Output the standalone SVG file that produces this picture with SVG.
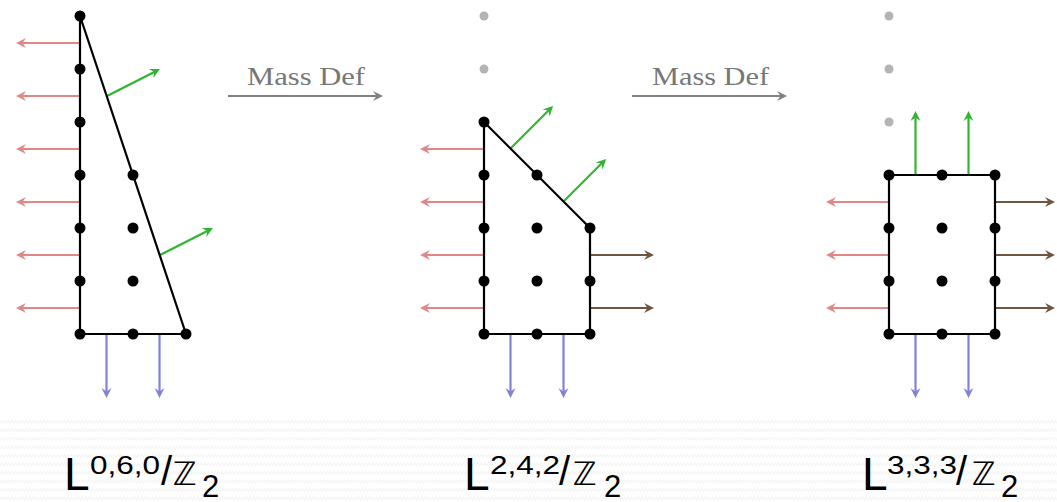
<svg xmlns="http://www.w3.org/2000/svg" width="1057" height="502" viewBox="0 0 1057 502">
<defs>
<style>
.edge{fill:none;stroke:#000;stroke-width:2.2;stroke-linejoin:round}
.dot{fill:#000}
.gdot{fill:#b4b4b4}
.red{stroke:#e08888;stroke-width:2.2;fill:none;marker-end:url(#mr)}
.grn{stroke:#2fb52f;stroke-width:2.2;fill:none;marker-end:url(#mg)}
.blu{stroke:#8282d6;stroke-width:2.2;fill:none;marker-end:url(#mb)}
.brn{stroke:#6e5642;stroke-width:2.2;fill:none;marker-end:url(#mn)}
.mass{stroke:#808080;stroke-width:2.2;fill:none;marker-end:url(#mm)}
.mtxt{font-family:"Liberation Serif","DejaVu Serif",serif;font-size:26px;fill:#777}
.L{font-family:"Liberation Sans",Arial,sans-serif;font-size:46px;fill:#000}
.sup{font-family:"Liberation Sans",Arial,sans-serif;font-size:26px;fill:#000}
.sl{font-family:"Liberation Sans",Arial,sans-serif;font-size:40px;fill:#000}
.zz{font-family:"DejaVu Sans",sans-serif;font-size:32px;fill:#000}
.sub{font-family:"Liberation Sans",Arial,sans-serif;font-size:31px;fill:#000}
</style>
<marker id="mr" viewBox="-8 -6 12 12" markerWidth="12" markerHeight="12" refX="0" refY="0" orient="auto" markerUnits="userSpaceOnUse"><path d="M3,0 L-7,-5 L-3.5,0 L-7,5 Z" fill="#e08888"/></marker>
<marker id="mg" viewBox="-8 -6 12 12" markerWidth="12" markerHeight="12" refX="0" refY="0" orient="auto" markerUnits="userSpaceOnUse"><path d="M3,0 L-7,-5 L-3.5,0 L-7,5 Z" fill="#2fb52f"/></marker>
<marker id="mb" viewBox="-8 -6 12 12" markerWidth="12" markerHeight="12" refX="0" refY="0" orient="auto" markerUnits="userSpaceOnUse"><path d="M3,0 L-7,-5 L-3.5,0 L-7,5 Z" fill="#8282d6"/></marker>
<marker id="mn" viewBox="-8 -6 12 12" markerWidth="12" markerHeight="12" refX="0" refY="0" orient="auto" markerUnits="userSpaceOnUse"><path d="M3,0 L-7,-5 L-3.5,0 L-7,5 Z" fill="#6e5642"/></marker>
<marker id="mm" viewBox="-8 -6 12 12" markerWidth="12" markerHeight="12" refX="0" refY="0" orient="auto" markerUnits="userSpaceOnUse"><path d="M3,0 L-7,-5 L-3.5,0 L-7,5 Z" fill="#808080"/></marker>
<pattern id="zig" x="0" y="418" width="7" height="8.5" patternUnits="userSpaceOnUse"><polyline points="0,5.5 1.75,2.5 3.5,5.5 5.25,2.5 7,5.5" fill="none" stroke="#f3f3f3" stroke-width="1"/></pattern>
</defs>
<rect x="0" y="0" width="1057" height="502" fill="#fff"/>
<rect x="0" y="418" width="1057" height="84" fill="url(#zig)"/>

<g id="diagram-L060">
<line class="red" x1="79" y1="43" x2="19" y2="43"/>
<line class="red" x1="79" y1="96" x2="19" y2="96"/>
<line class="red" x1="79" y1="149" x2="19" y2="149"/>
<line class="red" x1="79" y1="202" x2="19" y2="202"/>
<line class="red" x1="79" y1="255" x2="19" y2="255"/>
<line class="red" x1="79" y1="308" x2="19" y2="308"/>
<line class="grn" x1="107" y1="96" x2="157.3" y2="70.4"/>
<line class="grn" x1="160" y1="255" x2="210.3" y2="229.4"/>
<line class="blu" x1="106.5" y1="335" x2="106.5" y2="395"/>
<line class="blu" x1="159.5" y1="335" x2="159.5" y2="395"/>
<polygon class="edge" points="80,16 80,334 186,334"/>
<g class="dot">
<circle cx="80" cy="16" r="5.5"/><circle cx="80" cy="69" r="5.5"/><circle cx="80" cy="122" r="5.5"/><circle cx="80" cy="175" r="5.5"/><circle cx="80" cy="228" r="5.5"/><circle cx="80" cy="281" r="5.5"/><circle cx="80" cy="334" r="5.5"/>
<circle cx="133" cy="175" r="5.5"/><circle cx="133" cy="228" r="5.5"/><circle cx="133" cy="281" r="5.5"/><circle cx="133" cy="334" r="5.5"/>
<circle cx="186" cy="334" r="5.5"/>
</g>
</g>

<g id="diagram-L242">
<g class="gdot"><circle cx="484" cy="16" r="4.5"/><circle cx="484" cy="69" r="4.5"/></g>
<line class="red" x1="483" y1="149" x2="423" y2="149"/>
<line class="red" x1="483" y1="202" x2="423" y2="202"/>
<line class="red" x1="483" y1="255" x2="423" y2="255"/>
<line class="red" x1="483" y1="308" x2="423" y2="308"/>
<line class="grn" x1="510.5" y1="148.5" x2="551" y2="108"/>
<line class="grn" x1="563.5" y1="201.5" x2="604" y2="161"/>
<line class="brn" x1="591" y1="255" x2="651" y2="255"/>
<line class="brn" x1="591" y1="308" x2="651" y2="308"/>
<line class="blu" x1="510.5" y1="335" x2="510.5" y2="395"/>
<line class="blu" x1="563.5" y1="335" x2="563.5" y2="395"/>
<polygon class="edge" points="484,122 484,334 590,334 590,228"/>
<g class="dot">
<circle cx="484" cy="122" r="5.5"/><circle cx="484" cy="175" r="5.5"/><circle cx="484" cy="228" r="5.5"/><circle cx="484" cy="281" r="5.5"/><circle cx="484" cy="334" r="5.5"/>
<circle cx="537" cy="175" r="5.5"/><circle cx="537" cy="228" r="5.5"/><circle cx="537" cy="281" r="5.5"/><circle cx="537" cy="334" r="5.5"/>
<circle cx="590" cy="228" r="5.5"/><circle cx="590" cy="281" r="5.5"/><circle cx="590" cy="334" r="5.5"/>
</g>
</g>

<g id="diagram-L333">
<g class="gdot"><circle cx="889" cy="16" r="4.5"/><circle cx="889" cy="69" r="4.5"/><circle cx="889" cy="122" r="4.5"/></g>
<line class="grn" x1="915.5" y1="174" x2="915.5" y2="114"/>
<line class="grn" x1="968.5" y1="174" x2="968.5" y2="114"/>
<line class="red" x1="888" y1="202" x2="829" y2="202"/>
<line class="red" x1="888" y1="255" x2="829" y2="255"/>
<line class="red" x1="888" y1="308" x2="829" y2="308"/>
<line class="brn" x1="996" y1="202" x2="1052" y2="202"/>
<line class="brn" x1="996" y1="255" x2="1052" y2="255"/>
<line class="brn" x1="996" y1="308" x2="1052" y2="308"/>
<line class="blu" x1="915.5" y1="335" x2="915.5" y2="395"/>
<line class="blu" x1="968.5" y1="335" x2="968.5" y2="395"/>
<rect class="edge" x="889" y="175" width="106" height="159"/>
<g class="dot">
<circle cx="889" cy="175" r="5.5"/><circle cx="942" cy="175" r="5.5"/><circle cx="995" cy="175" r="5.5"/>
<circle cx="889" cy="228" r="5.5"/><circle cx="942" cy="228" r="5.5"/><circle cx="995" cy="228" r="5.5"/>
<circle cx="889" cy="281" r="5.5"/><circle cx="942" cy="281" r="5.5"/><circle cx="995" cy="281" r="5.5"/>
<circle cx="889" cy="334" r="5.5"/><circle cx="942" cy="334" r="5.5"/><circle cx="995" cy="334" r="5.5"/>
</g>
</g>

<g id="connectors">
<line class="mass" x1="228" y1="96" x2="380" y2="96"/>
<text class="mtxt" x="247" y="85" textLength="118" lengthAdjust="spacingAndGlyphs">Mass Def</text>
<line class="mass" x1="632" y1="96" x2="784" y2="96"/>
<text class="mtxt" x="652" y="85" textLength="117" lengthAdjust="spacingAndGlyphs">Mass Def</text>
</g>

<g id="label-L060">
<text class="L" x="64" y="490">L</text>
<text class="sup" x="90" y="474" textLength="70" lengthAdjust="spacingAndGlyphs">0,6,0</text>
<text class="sl" x="161" y="485">/</text>
<text class="zz" x="173" y="485">ℤ</text>
<text class="sub" x="202" y="497">2</text>
</g>
<g id="label-L242">
<text class="L" x="464" y="490">L</text>
<text class="sup" x="490" y="474" textLength="70" lengthAdjust="spacingAndGlyphs">2,4,2</text>
<text class="sl" x="559" y="485">/</text>
<text class="zz" x="573" y="485">ℤ</text>
<text class="sub" x="604" y="497">2</text>
</g>
<g id="label-L333">
<text class="L" x="862" y="490">L</text>
<text class="sup" x="887" y="474" textLength="70" lengthAdjust="spacingAndGlyphs">3,3,3</text>
<text class="sl" x="956" y="485">/</text>
<text class="zz" x="972" y="485">ℤ</text>
<text class="sub" x="1001" y="497">2</text>
</g>
</svg>
